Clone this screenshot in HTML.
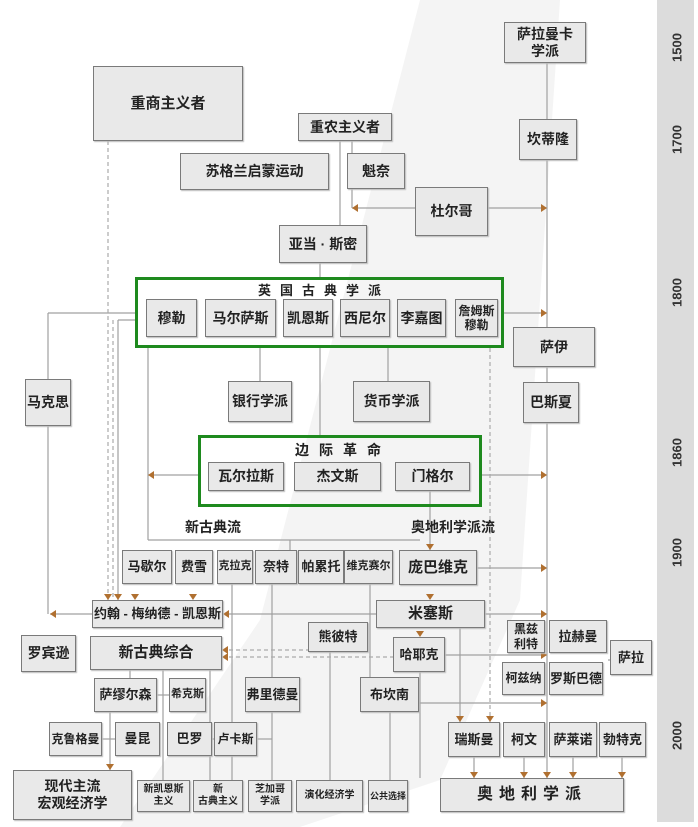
<!DOCTYPE html>
<html><head><meta charset="utf-8"><style>
body{margin:0;background:#fff;}
#c{position:relative;width:698px;height:827px;overflow:hidden;background:#fff;font-family:"Liberation Sans","Noto Sans CJK SC",sans-serif;}
.b{position:absolute;box-sizing:border-box;background:#e9e9e9;border:1.5px solid #7a7a7a;display:flex;align-items:center;justify-content:center;text-align:center;font-weight:bold;color:#222;font-size:14px;line-height:1.2;box-shadow:1px 1px 1px #bbb;white-space:nowrap;overflow:hidden;}
.g{position:absolute;box-sizing:border-box;border:3px solid #1e8a1e;}
.t{position:absolute;font-weight:bold;color:#222;font-size:14px;white-space:nowrap;}
.y{position:absolute;left:662px;width:30px;text-align:center;font-weight:bold;font-size:13px;color:#333;transform:rotate(-90deg);}
svg{position:absolute;left:0;top:0;}
</style></head><body><div id="c">
<svg width="698" height="827">
<polygon points="420,0 560,0 520,600 440,780 300,827 120,827 260,620" fill="#f4f4f4"/>
<rect x="657" y="0" width="37" height="822" fill="#dcdcdc"/>
<g stroke="#a0a0a0" stroke-width="1.2" fill="none">
<line x1="547" y1="62" x2="547" y2="778"/>
<line x1="340" y1="141" x2="340" y2="225"/>
<line x1="352" y1="141" x2="352" y2="208"/>
<line x1="352" y1="208" x2="415" y2="208"/>
<line x1="488" y1="208" x2="547" y2="208"/>
<line x1="320" y1="263" x2="320" y2="277"/>
<line x1="48" y1="313" x2="135" y2="313"/>
<line x1="48" y1="313" x2="48" y2="379"/>
<line x1="48" y1="426" x2="48" y2="614"/>
<line x1="504" y1="313" x2="547" y2="313"/>
<line x1="260" y1="348" x2="260" y2="381"/>
<line x1="388" y1="348" x2="388" y2="381"/>
<line x1="320" y1="348" x2="320" y2="435"/>
<line x1="148" y1="348" x2="148" y2="540"/>
<line x1="148" y1="475" x2="198" y2="475"/>
<line x1="482" y1="475" x2="547" y2="475"/>
<line x1="118" y1="320" x2="118" y2="600"/>
<line x1="118" y1="320" x2="135" y2="320"/>
<line x1="430" y1="490" x2="430" y2="550"/>
<line x1="148" y1="540" x2="420" y2="540"/>
<line x1="290" y1="540" x2="290" y2="550"/>
<line x1="477" y1="568" x2="547" y2="568"/>
<line x1="50" y1="614" x2="92" y2="614"/>
<line x1="223" y1="614" x2="376" y2="614"/>
<line x1="485" y1="614" x2="547" y2="614"/>
<line x1="445" y1="655" x2="547" y2="655"/>
<line x1="419" y1="703" x2="547" y2="703"/>
<line x1="272" y1="584" x2="272" y2="790"/>
<line x1="370" y1="584" x2="370" y2="677"/>
<line x1="232" y1="584" x2="232" y2="780"/>
<line x1="130" y1="670" x2="130" y2="678"/>
<line x1="163" y1="670" x2="163" y2="780"/>
<line x1="210" y1="670" x2="210" y2="780"/>
<line x1="157" y1="695" x2="169" y2="695"/>
<line x1="102" y1="739" x2="115" y2="739"/>
<line x1="212" y1="739" x2="214" y2="739"/>
<line x1="257" y1="739" x2="272" y2="739"/>
<line x1="110" y1="712" x2="110" y2="770"/>
<line x1="330" y1="652" x2="330" y2="780"/>
<line x1="390" y1="712" x2="390" y2="780"/>
<line x1="460" y1="628" x2="460" y2="722"/>
<line x1="420" y1="672" x2="420" y2="778"/>
<line x1="474" y1="757" x2="474" y2="778"/>
<line x1="524" y1="757" x2="524" y2="778"/>
<line x1="573" y1="757" x2="573" y2="778"/>
<line x1="622" y1="757" x2="622" y2="778"/>
<line x1="608" y1="660" x2="610" y2="660"/>
</g>
<g stroke="#aaa" stroke-width="1.2" fill="none" stroke-dasharray="4,3">
<line x1="108" y1="141" x2="108" y2="600"/>
<line x1="490" y1="348" x2="490" y2="722"/>
<line x1="222" y1="650" x2="310" y2="650"/>
<line x1="222" y1="657" x2="440" y2="657"/>
<line x1="113" y1="320" x2="113" y2="600"/>
</g>
<g fill="#b07030">
<path d="M352,208 l6,-4 v8z"/><path d="M547,208 l-6,-4 v8z"/>
<path d="M547,313 l-6,-4 v8z"/><path d="M148,475 l6,-4 v8z"/>
<path d="M547,475 l-6,-4 v8z"/><path d="M547,568 l-6,-4 v8z"/>
<path d="M547,614 l-6,-4 v8z"/><path d="M547,655 l-6,-4 v8z"/>
<path d="M547,703 l-6,-4 v8z"/><path d="M50,614 l6,-4 v8z"/>
<path d="M223,614 l6,-4 v8z"/><path d="M222,650 l6,-4 v8z"/><path d="M222,657 l6,-4 v8z"/>
<path d="M110,770 l-4,-6 h8z"/><path d="M430,550 l-4,-6 h8z"/><path d="M430,600 l-4,-6 h8z"/>
<path d="M420,637 l-4,-6 h8z"/><path d="M460,722 l-4,-6 h8z"/><path d="M490,722 l-4,-6 h8z"/>
<path d="M474,778 l-4,-6 h8z"/><path d="M524,778 l-4,-6 h8z"/><path d="M573,778 l-4,-6 h8z"/><path d="M622,778 l-4,-6 h8z"/><path d="M547,778 l-4,-6 h8z"/>
<path d="M108,600 l-4,-6 h8z"/><path d="M118,600 l-4,-6 h8z"/><path d="M135,600 l-4,-6 h8z"/><path d="M193,600 l-4,-6 h8z"/>
</g>
</svg>
<div class="y" style="top:40px">1500</div>
<div class="y" style="top:132px">1700</div>
<div class="y" style="top:285px">1800</div>
<div class="y" style="top:445px">1860</div>
<div class="y" style="top:545px">1900</div>
<div class="y" style="top:728px">2000</div>

<div class="b" style="left:504px;top:22px;width:82px;height:41px">萨拉曼卡<br>学派</div>
<div class="b" style="left:93px;top:66px;width:150px;height:75px;font-size:15px">重商主义者</div>
<div class="b" style="left:298px;top:113px;width:94px;height:28px">重农主义者</div>
<div class="b" style="left:519px;top:119px;width:58px;height:41px">坎蒂隆</div>
<div class="b" style="left:180px;top:153px;width:149px;height:37px">苏格兰启蒙运动</div>
<div class="b" style="left:347px;top:153px;width:58px;height:36px">魁奈</div>
<div class="b" style="left:415px;top:187px;width:73px;height:49px">杜尔哥</div>
<div class="b" style="left:279px;top:225px;width:88px;height:38px">亚当 · 斯密</div>

<div class="g" style="left:135px;top:277px;width:369px;height:71px"></div>
<div class="t" style="left:258px;top:280px;letter-spacing:9px;font-size:13px">英国古典学派</div>
<div class="b" style="left:146px;top:299px;width:51px;height:38px">穆勒</div>
<div class="b" style="left:205px;top:299px;width:71px;height:38px">马尔萨斯</div>
<div class="b" style="left:283px;top:299px;width:50px;height:38px">凯恩斯</div>
<div class="b" style="left:340px;top:299px;width:50px;height:38px">西尼尔</div>
<div class="b" style="left:397px;top:299px;width:49px;height:38px">李嘉图</div>
<div class="b" style="left:455px;top:299px;width:43px;height:38px;font-size:12px">詹姆斯<br>穆勒</div>

<div class="b" style="left:513px;top:327px;width:82px;height:40px">萨伊</div>
<div class="b" style="left:25px;top:379px;width:46px;height:47px">马克思</div>
<div class="b" style="left:228px;top:381px;width:64px;height:41px">银行学派</div>
<div class="b" style="left:353px;top:381px;width:77px;height:41px">货币学派</div>
<div class="b" style="left:523px;top:382px;width:56px;height:41px">巴斯夏</div>

<div class="g" style="left:198px;top:435px;width:284px;height:72px"></div>
<div class="t" style="left:295px;top:440px;letter-spacing:10px;font-size:14px">边际革命</div>
<div class="b" style="left:208px;top:462px;width:76px;height:29px">瓦尔拉斯</div>
<div class="b" style="left:294px;top:462px;width:87px;height:29px">杰文斯</div>
<div class="b" style="left:395px;top:462px;width:75px;height:29px">门格尔</div>

<div class="t" style="left:185px;top:517px">新古典流</div>
<div class="t" style="left:411px;top:517px">奥地利学派流</div>

<div class="b" style="left:122px;top:550px;width:50px;height:34px;font-size:13px">马歇尔</div>
<div class="b" style="left:175px;top:550px;width:38px;height:34px;font-size:13px">费雪</div>
<div class="b" style="left:217px;top:550px;width:36px;height:34px;font-size:11px">克拉克</div>
<div class="b" style="left:255px;top:550px;width:42px;height:34px;font-size:13px">奈特</div>
<div class="b" style="left:298px;top:550px;width:46px;height:34px;font-size:13px">帕累托</div>
<div class="b" style="left:344px;top:550px;width:49px;height:34px;font-size:11px">维克赛尔</div>
<div class="b" style="left:399px;top:550px;width:78px;height:35px;font-size:15px">庞巴维克</div>

<div class="b" style="left:92px;top:600px;width:131px;height:28px;font-size:13px">约翰 - 梅纳德 - 凯恩斯</div>
<div class="b" style="left:376px;top:600px;width:109px;height:28px;font-size:15px">米塞斯</div>
<div class="b" style="left:308px;top:622px;width:60px;height:30px;font-size:13px">熊彼特</div>
<div class="b" style="left:507px;top:620px;width:38px;height:33px;font-size:12px">黑兹<br>利特</div>
<div class="b" style="left:549px;top:620px;width:58px;height:33px;font-size:13px">拉赫曼</div>
<div class="b" style="left:21px;top:635px;width:55px;height:37px">罗宾逊</div>
<div class="b" style="left:90px;top:636px;width:132px;height:34px;font-size:15px">新古典综合</div>
<div class="b" style="left:393px;top:637px;width:52px;height:35px;font-size:13px">哈耶克</div>
<div class="b" style="left:610px;top:640px;width:42px;height:35px;font-size:13px">萨拉</div>
<div class="b" style="left:502px;top:662px;width:43px;height:33px;font-size:12px">柯兹纳</div>
<div class="b" style="left:549px;top:662px;width:54px;height:33px;font-size:13px">罗斯巴德</div>

<div class="b" style="left:94px;top:678px;width:63px;height:34px;font-size:13px">萨缪尔森</div>
<div class="b" style="left:169px;top:678px;width:37px;height:34px;font-size:11px">希克斯</div>
<div class="b" style="left:245px;top:677px;width:55px;height:35px;font-size:13px">弗里德曼</div>
<div class="b" style="left:360px;top:677px;width:59px;height:35px;font-size:13px">布坎南</div>

<div class="b" style="left:49px;top:722px;width:53px;height:34px;font-size:12px">克鲁格曼</div>
<div class="b" style="left:115px;top:722px;width:45px;height:34px;font-size:13px">曼昆</div>
<div class="b" style="left:167px;top:722px;width:45px;height:34px;font-size:13px">巴罗</div>
<div class="b" style="left:214px;top:722px;width:43px;height:34px;font-size:12px">卢卡斯</div>
<div class="b" style="left:448px;top:722px;width:52px;height:35px;font-size:13px">瑞斯曼</div>
<div class="b" style="left:503px;top:722px;width:42px;height:35px;font-size:13px">柯文</div>
<div class="b" style="left:549px;top:722px;width:48px;height:35px;font-size:13px">萨莱诺</div>
<div class="b" style="left:599px;top:722px;width:47px;height:35px;font-size:13px">勃特克</div>

<div class="b" style="left:13px;top:770px;width:119px;height:50px;font-size:14px">现代主流<br>宏观经济学</div>
<div class="b" style="left:137px;top:780px;width:53px;height:32px;font-size:10px">新凯恩斯<br>主义</div>
<div class="b" style="left:193px;top:780px;width:50px;height:32px;font-size:10px">新<br>古典主义</div>
<div class="b" style="left:248px;top:780px;width:44px;height:32px;font-size:10px">芝加哥<br>学派</div>
<div class="b" style="left:296px;top:780px;width:67px;height:32px;font-size:10px">演化经济学</div>
<div class="b" style="left:368px;top:780px;width:40px;height:32px;font-size:9px">公共选择</div>
<div class="b" style="left:440px;top:778px;width:184px;height:34px;font-size:16px;letter-spacing:6px">奥地利学派</div>
</div></body></html>
